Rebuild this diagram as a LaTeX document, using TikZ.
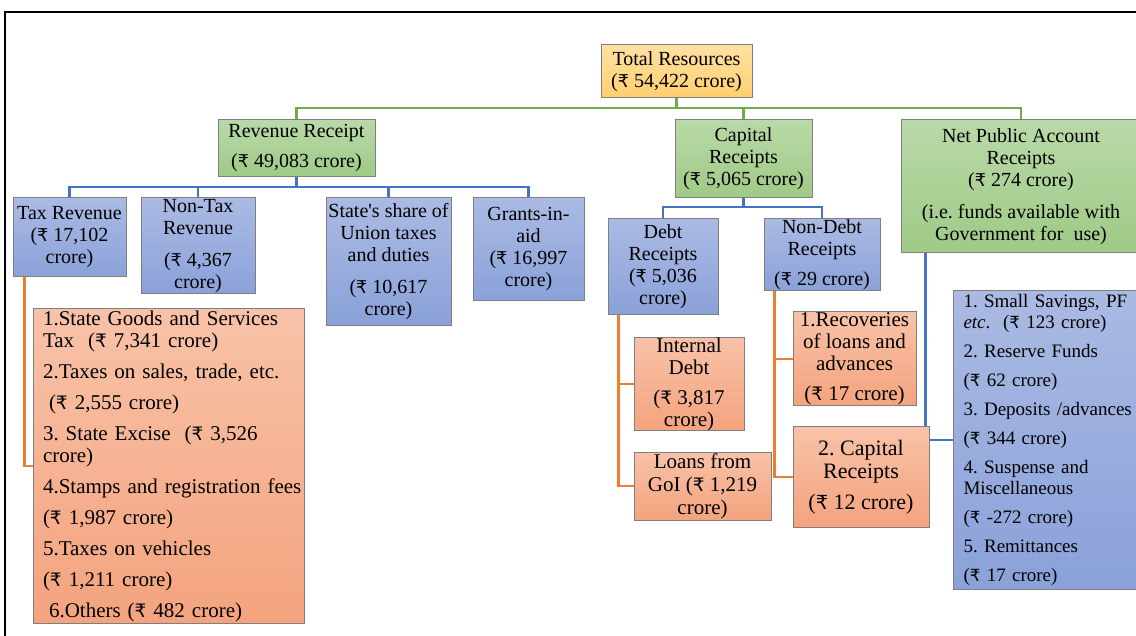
\documentclass[tikz,border=0pt]{standalone}
\usepackage{fontspec}
\setmainfont{Liberation Serif}
\newfontfamily\rupfont{DejaVu Sans}[Scale=0.88]
\usetikzlibrary{backgrounds}
\definecolor{boxgray}{HTML}{7F7F7F}
\definecolor{goldtop}{HTML}{FFE1A3}
\definecolor{goldbot}{HTML}{FFCF6E}
\definecolor{greentop}{HTML}{B9D9A8}
\definecolor{greenbot}{HTML}{9FCA86}
\definecolor{bluetop}{HTML}{AABAE3}
\definecolor{bluebot}{HTML}{8AA1D9}
\definecolor{orangetop}{HTML}{F8C2A8}
\definecolor{orangebot}{HTML}{F4A37E}
\definecolor{linegreen}{HTML}{70AD47}
\definecolor{lineblue}{HTML}{4472C4}
\definecolor{lineorange}{HTML}{ED7D31}
\newcommand{\rs}{{\rupfont ₹}}
\frenchspacing
\begin{document}
\begin{tikzpicture}[x=0.5pt,y=-0.5pt, font=\fontsize{10}{11}\selectfont,
  px/.style 2 args={minimum width=0.5pt*#1, minimum height=0.5pt*#2},
  box/.style={draw=boxgray, line width=0.5pt, inner sep=0pt, align=center},
  goldbox/.style={box, top color=goldtop, bottom color=goldbot},
  greenbox/.style={box, top color=greentop, bottom color=greenbot},
  bluebox/.style={box, top color=bluetop, bottom color=bluebot},
  orangebox/.style={box, top color=orangetop, bottom color=orangebot},
  gline/.style={draw=linegreen, line width=1.2pt},
  bline/.style={draw=lineblue, line width=1.2pt},
  oline/.style={draw=lineorange, line width=1.2pt}]
\useasboundingbox (0,0) rectangle (1136,636);
\clip (0,0) rectangle (1136,636);
\draw[line width=1pt] (5,700) -- (5,12) -- (1200,12);
% top
\node[goldbox, px={151}{53}] (tr) at (676.5,71.5) {Total Resources\\ (\rs{} 54,422 crore)};
\node[greenbox, px={157}{57}] (rr) at (296.5,148.5) {Revenue Receipt\\[4pt](\rs{} 49,083 crore)};
\node[greenbox, px={137}{78}] (cr) at (743.5,159) {Capital\\Receipts\\(\rs{} 5,065 crore)};
\node[greenbox, px={240}{133}] (np) at (1021,186.5) {Net Public Account\\Receipts\\(\rs{} 274 crore)\\[5pt](i.e. funds available with\\Government for\ \ use)};
% revenue side
\node[bluebox, px={113}{79}] (tax) at (69.5,237.5) {Tax Revenue\\(\rs{} 17,102\\crore)};
\node[bluebox, px={114}{96}] (nontax) at (198,246) {Non-Tax\\Revenue\\[5pt](\rs{} 4,367\\crore)};
\node[bluebox, px={125}{128}] (share) at (388.5,262) {State\textquotesingle s share of\\Union taxes\\and duties\\[5pt](\rs{} 10,617\\crore)};
\node[bluebox, px={111}{103}] (grants) at (528.5,249.5) {Grants-in-\\aid\\(\rs{} 16,997\\crore)};
\node[orangebox, px={271}{314}, align=left, text width=125.5pt, inner xsep=5pt, font=\fontsize{10.5}{11}\selectfont] (taxitems) at (168.5,466)
  {1.State Goods and Services\\Tax\ \ (\rs{} 7,341 crore)\\[4.5pt]
   2.Taxes on sales, trade, etc.\\[4.5pt]\hspace*{3pt}(\rs{} 2,555 crore)\\[4.5pt]
   3. State Excise\ \ (\rs{} 3,526\\crore)\\[4.5pt]
   \mbox{4.Stamps and registration fees}\\[4.5pt](\rs{} 1,987 crore)\\[4.5pt]
   5.Taxes on vehicles\\[4.5pt](\rs{} 1,211 crore)\\[4.5pt]\hspace*{3pt}6.Others (\rs{} 482 crore)};
% capital side
\node[bluebox, px={110}{96}] (debt) at (663,267) {Debt\\Receipts\\(\rs{} 5,036\\crore)};
\node[bluebox, px={116}{72}] (nondebt) at (822,255) {Non-Debt\\Receipts\\[4pt](\rs{} 29 crore)};
\node[orangebox, px={110}{92}, font=\fontsize{10.5}{11}\selectfont] (intdebt) at (689,384) {Internal\\Debt\\[4pt](\rs{} 3,817\\crore)};
\node[orangebox, px={137}{68}, font=\fontsize{10.5}{11.5}\selectfont] (loans) at (702.5,486) {Loans from\\GoI (\rs{} 1,219\\crore)};
\node[orangebox, px={123}{94}, font=\fontsize{10.5}{11}\selectfont] (recov) at (854.5,359) {1.Recoveries\\of loans and\\advances\\[4pt](\rs{} 17 crore)};
\node[orangebox, px={136}{100}, font=\fontsize{11}{11.5}\selectfont] (capitems) at (861,477) {2. Capital\\Receipts\\[4pt](\rs{} 12 crore)};
% public account
\node[bluebox, px={210}{298}, anchor=west, align=left, text width=95pt, inner xsep=5pt, font=\fontsize{9.5}{10.5}\selectfont] (pubitems) at (953,440)
  {1. Small Savings, PF\\\textit{etc}.\ \ (\rs{} 123 crore)\\[4pt]
   2. Reserve Funds\\[4pt](\rs{} 62 crore)\\[4pt]
   3. Deposits /advances\\[4pt](\rs{} 344 crore)\\[4pt]
   4. Suspense and\\Miscellaneous\\[4pt](\rs{} -272 crore)\\[4pt]
   5. Remittances\\[4pt](\rs{} 17 crore)};
% connectors
\begin{scope}[on background layer]
\coordinate (gbus) at (0,108);
\coordinate (rbus) at (0,187);
\coordinate (cbus) at (0,207);
\draw[gline] (tr.south) -- (tr.south |- gbus);
\draw[gline] (rr.north) -- (rr.north |- gbus) -| (np.north);
\draw[gline] (cr.north) -- (cr.north |- gbus);
\draw[bline] (rr.south) -- (rr.south |- rbus);
\draw[bline] (tax.north) -- (tax.north |- rbus) -| (grants.north);
\draw[bline] (nontax.north) -- (nontax.north |- rbus);
\draw[bline] (share.north) -- (share.north |- rbus);
\draw[bline] (cr.south) -- (cr.south |- cbus);
\draw[bline] (debt.north) -- (debt.north |- cbus) -| (nondebt.north);
\draw[oline] (tax.south west) ++(12,0) |- (taxitems.west);
\draw[oline] (debt.south west) ++(11,0) coordinate (dj) |- (intdebt.west);
\draw[oline] (dj) |- (loans.west);
\draw[oline] (nondebt.south west) ++(11,0) coordinate (nj) |- (recov.west);
\draw[oline] (nj) |- (capitems.west);
\draw[bline] (np.south west) ++(25,0) |- (pubitems.west);
\end{scope}
\end{tikzpicture}
\end{document}
